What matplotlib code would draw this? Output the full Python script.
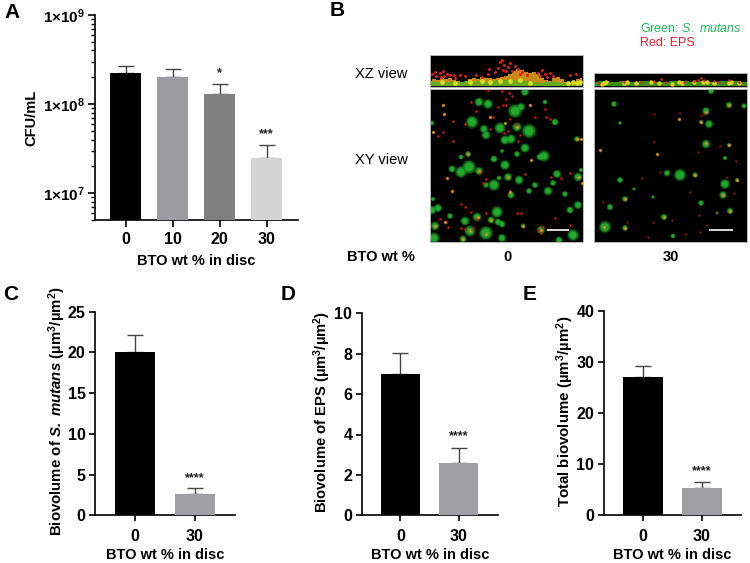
import matplotlib
matplotlib.use('Agg')
from matplotlib import pyplot as plt

plt.rcParams['font.family'] = ['Liberation Sans', 'DejaVu Sans']
plt.rcParams['mathtext.fontset'] = 'custom'
plt.rcParams['mathtext.rm'] = 'Liberation Sans'
plt.rcParams['mathtext.bf'] = 'Liberation Sans:bold'
plt.rcParams['mathtext.it'] = 'Liberation Sans:italic'
plt.rcParams['mathtext.bfit'] = 'Liberation Sans:italic:bold'

# Panel A
a_labels = ['0', '10', '20', '30']
a_values = [2.25e8, 2.03e8, 1.3e8, 2.47e7]
a_errors = [0.45e8, 0.47e8, 0.37e8, 1.0e7]
a_colors = ['#000000', '#9d9da1', '#7f7f7f', '#d4d4d4']
a_stars = ['', '', '*', '***']
a_star_y = [0, 0, 2.2e8, 4.6e7]

# Panels C, D, E
c_values = [20.05, 2.62]
c_errors = [2.15, 0.73]
d_values = [7.0, 2.57]
d_errors = [1.05, 0.76]
e_values = [27.0, 5.25]
e_errors = [2.3, 1.2]

# Panel B spots: x, y, radius (px from panel corner)
left_green = [
    (42, 33, 4.5), (49, 13, 3.2), (58, 15, 3.5), (85, 22, 5), (91, 18, 3), (99, 42, 5.2), (70, 39, 4),
    (75, 51, 3.4), (81, 50, 3.4), (56, 46, 3.2), (54, 40, 3), (87, 38, 3.4), (95, 59, 3.4), (114, 67, 4),
    (110, 68, 2.6), (125, 33, 2.6), (115, 13, 1.8), (95, 3, 3), (64, 70, 2.6), (87, 65, 2.2), (2, 34, 1.8),
    (147, 50, 2.2), (38, 65, 2.2), (72, 62, 1.5), (31, 68, 1.8), (31, 83, 4.2), (39, 78, 5), (22, 80, 2.6),
    (75, 76, 3.6), (49, 82, 3), (78, 88, 3), (64, 96, 4.2), (89, 91, 3.2), (56, 96, 2.2), (69, 89, 1.8),
    (127, 85, 3), (123, 94, 2.2), (105, 96, 2.2), (99, 102, 2.2), (118, 102, 3.2), (135, 105, 2.2),
    (81, 106, 2.6), (148, 88, 3.2), (151, 81, 1.6), (2, 121, 3.2), (8, 119, 3), (3, 110, 1.6), (67, 123, 4.2),
    (20, 127, 2.2), (35, 132, 3.2), (47, 128, 3.2), (61, 131, 2.6), (68, 133, 2.6), (72, 135, 2.6), (5, 137, 3.2),
    (40, 142, 4), (56, 144, 5), (143, 146, 4.2), (129, 151, 2.6), (4, 149, 4), (33, 150, 2.6), (72, 149, 3),
    (140, 121, 2.6), (148, 116, 3), (93, 137, 1.8), (111, 141, 3),
]
left_red = [
    (58, 1), (72, 2), (79, 4), (82, 7), (76, 10), (73, 16), (68, 18), (76, 16), (41, 13), (46, 22), (60, 28),
    (23, 32), (35, 35), (60, 40), (78, 42), (86, 35), (90, 46), (88, 52), (115, 20), (116, 28), (120, 30),
    (100, 16), (13, 16), (14, 25), (13, 43), (8, 47), (3, 43), (23, 52), (63, 28), (74, 44), (80, 30), (105, 28),
    (53, 94), (56, 90), (95, 85), (140, 84), (131, 89), (121, 88), (22, 102), (80, 102), (17, 89), (50, 83),
    (31, 115), (35, 118), (56, 124), (91, 124), (87, 124), (125, 129), (10, 130), (16, 133), (18, 138),
    (31, 139), (35, 140), (43, 139), (108, 141), (111, 144), (113, 138), (140, 136), (47, 130), (41, 123),
]
left_core = [
    (75, 34), (3, 43), (13, 16), (100, 16), (14, 25), (38, 65), (101, 71), (147, 50), (151, 50), (87, 38), (60, 28),
    (49, 82), (78, 88), (80, 103), (17, 89), (22, 102), (149, 88), (152, 94), (48, 128), (61, 131), (93, 137),
    (111, 141), (15, 133), (40, 142), (5, 137), (33, 150), (56, 145),
]
right_green = [
    (117, 2, 2.4), (20, 15, 2.2), (112, 22, 2.8), (135, 16, 2.4), (150, 17, 2), (115, 35, 3), (107, 33, 1.6),
    (112, 55, 3.2), (26, 34, 1.4), (135, 56, 1.6), (131, 69, 1.6), (86, 86, 4.4), (73, 84, 2.4), (101, 86, 2),
    (26, 91, 2.2), (131, 95, 3.6), (143, 91, 1.6), (129, 106, 2.8), (31, 110, 2.2), (40, 100, 1.2), (16, 118, 2.4),
    (59, 108, 1.2), (107, 114, 2.2), (136, 122, 2.4), (70, 128, 2.4), (11, 138, 4.4), (31, 139, 2.2), (79, 147, 1.8),
    (123, 124, 1.2),
]
right_red = [
    (60, 25), (86, 24), (107, 26), (110, 25), (104, 63), (126, 57), (60, 53), (66, 83), (142, 72), (48, 89), (96, 103),
    (9, 113), (59, 133), (105, 126), (91, 145), (54, 148), (106, 143), (133, 88), (33, 133), (78, 131), (123, 124),
    (140, 104), (113, 136),
]
right_core = [
    (112, 23), (135, 16), (107, 33), (112, 54), (85, 30), (6, 61), (63, 65), (135, 56), (101, 86), (143, 91),
    (129, 106), (31, 110), (136, 122), (10, 138), (31, 139), (70, 128),
]

# XZ strips: height of the biofilm along x, then specks
xz_x = [0, 4, 8, 12, 16, 20, 24, 28, 32, 36, 40, 44, 48, 52, 56, 60, 64, 68, 72, 76, 80, 84, 88, 92, 96, 100, 104,
        108, 112, 116, 120, 124, 128, 132, 136, 140, 144, 148, 152]
xz_green = [5, 6, 5, 6, 5, 5, 6, 5, 5, 6, 6, 5, 6, 6, 5, 7, 6, 7, 6, 7, 7, 7, 6, 7, 6, 6, 5, 5, 4, 5, 5, 6, 5, 4, 4, 4,
            5, 6, 6]
xz_orange = [6, 8, 7, 9, 8, 9, 7, 6, 5, 6, 8, 9, 8, 10, 9, 9, 8, 9, 10, 11, 13, 16, 18, 17, 15, 14, 15, 13, 9, 7, 6,
             9, 10, 8, 5, 4, 5, 8, 9]
xz_red = [
    (2, 13), (5, 15), (10, 14), (13, 16), (17, 13), (20, 12), (25, 9), (30, 12), (46, 12), (58, 13), (59, 18),
    (70, 25), (72, 27), (74, 22), (78, 20), (80, 24), (85, 21), (88, 18), (92, 15), (97, 12), (108, 14), (112, 17),
    (115, 13), (120, 14), (123, 11), (140, 12), (146, 13), (65, 15), (76, 16), (82, 16), (14, 11), (35, 11), (52, 10),
    (6, 11), (11, 10), (24, 12), (68, 19), (73, 17), (90, 13), (110, 11), (117, 10),
]
xz_yellow = [(138, 4), (143, 5), (147, 4), (150, 5), (40, 5), (60, 5), (80, 6), (25, 4), (100, 4), (12, 5), (52, 6),
             (70, 6), (90, 7)]
xz2_x = [0, 10, 20, 30, 40, 50, 60, 70, 80, 90, 100, 110, 120, 130, 140, 153]
xz2_green = [5, 6, 5, 6, 5, 6, 5, 5, 6, 6, 5, 6, 5, 6, 6, 5]
xz2_yellow = [(10, 4), (12, 5), (30, 4), (57, 5), (85, 5), (88, 4), (109, 5), (113, 5), (135, 4), (137, 5),
              (100, 5), (65, 4), (42, 4), (78, 3), (8, 3), (33, 5), (120, 4), (145, 4)]
xz2_red = [(67, 8), (47, 5), (60, 6), (107, 9), (110, 7), (120, 6), (135, 7), (145, 5), (72, 5), (100, 6),
           (30, 5), (5, 4), (90, 5), (125, 5), (104, 7)]

fig = plt.figure(figsize=(7.5, 5.63), dpi=100)


def px_axes(left, top, right, bottom):
    return fig.add_axes([left / 750, 1 - bottom / 563, (right - left) / 750, (bottom - top) / 563])


def size(r):
    # radius in pixels to scatter size
    return (2 * r * 0.72) ** 2


def style_axis(ax):
    ax.spines['top'].set_visible(False)
    ax.spines['right'].set_visible(False)
    ax.spines['left'].set_linewidth(1.2)
    ax.spines['bottom'].set_linewidth(1.2)


def bar_panel(box, values, errors, ymax, ticks, ylabel, label_x, label_size, star_y, xlim):
    ax = px_axes(*box)
    # bars above the error bars so the lower cap stays hidden
    ax.bar([0, 1], values, width=0.67, color=['#000000', '#a0a0a4'], zorder=3)
    ax.errorbar([0, 1], values, yerr=[[0, 0], errors], fmt='none', ecolor='#444444', elinewidth=1, capsize=5.6,
                capthick=1, zorder=2)
    ax.set_xlim(*xlim)
    ax.set_ylim(0, ymax)
    ax.set_xticks([0, 1])
    ax.set_xticklabels(['0', '30'], fontweight='bold', fontsize=11.5)
    ax.set_yticks(ticks)
    ax.set_yticklabels([str(t) for t in ticks], fontweight='bold', fontsize=11.5)
    ax.tick_params(width=1.2, length=4, pad=3)
    ax.tick_params(axis='x', pad=6)
    style_axis(ax)
    ax.set_xlabel('BTO wt % in disc', fontweight='bold', fontsize=10.5, labelpad=3)
    ax.text(1, star_y, '****', ha='center', va='center', fontsize=9, fontweight='bold', color='#222222')
    fig.text(label_x / 750, 1 - (box[1] + box[3]) / 2 / 563 + 0.004, ylabel, rotation=90, ha='center', va='center',
             fontweight='bold', fontsize=label_size)


def spots(ax, green, red, core, red_alpha):
    gx = [s[0] for s in green]
    gy = [s[1] for s in green]
    # soft edge built up from a few layers
    ax.scatter(gx, gy, s=[size(s[2] * 1.5) for s in green], color='#0d5c12', alpha=0.45, linewidths=0)
    ax.scatter(gx, gy, s=[size(s[2] * 1.2) for s in green], color='#178a22', alpha=0.8, linewidths=0)
    ax.scatter(gx, gy, s=[size(s[2] * 0.85) for s in green], color='#22a82c', linewidths=0)
    rx = [p[0] for p in red]
    ry = [p[1] for p in red]
    ax.scatter(rx, ry, s=size(1.6), color='#7a1010', alpha=0.6 * red_alpha, linewidths=0)
    ax.scatter(rx, ry, s=size(1.0), color='#e21a1a', alpha=red_alpha, linewidths=0)
    ax.scatter([p[0] for p in core], [p[1] for p in core], s=size(1.8), color='#b8701c', alpha=0.7, linewidths=0)
    ax.scatter([p[0] for p in core], [p[1] for p in core], s=size(1.1), color='#dca024', linewidths=0)


def image_axes(left, top, right, bottom, inverted):
    ax = px_axes(left, top, right, bottom)
    ax.set_facecolor('black')
    ax.set_xticks([])
    ax.set_yticks([])
    ax.set_xlim(0, right - left)
    if inverted:
        ax.set_ylim(bottom - top, 0)
    else:
        ax.set_ylim(0, bottom - top)
    for s in ax.spines.values():
        s.set_color('#b8b8b8')
        s.set_linewidth(0.7)
    return ax


# A
ax_a = px_axes(94.5, 15, 298, 220)
a_x = range(len(a_values))
ax_a.bar(a_x, a_values, width=0.66, color=a_colors, bottom=1, zorder=3)
ax_a.errorbar(a_x, a_values, yerr=[[0] * 4, a_errors], fmt='none', ecolor='#444444', elinewidth=1, capsize=5.8,
              capthick=1, zorder=2)
ax_a.set_yscale('log')
ax_a.set_xlim(-0.66, 3.67)
ax_a.set_ylim(5e6, 1e9)
ax_a.set_xticks(list(a_x))
ax_a.set_xticklabels(a_labels, fontweight='bold', fontsize=11.5)
ax_a.set_yticks([1e7, 1e8, 1e9])
ax_a.set_yticklabels([r'$\mathbf{1{\times}10^{7}}$', r'$\mathbf{1{\times}10^{8}}$', r'$\mathbf{1{\times}10^{9}}$'],
                     fontsize=11)
ax_a.set_yticks([m * 10 ** e for e in (6, 7, 8) for m in range(2, 10) if m * 10 ** e >= 5e6], minor=True)
ax_a.set_yticklabels([], minor=True)
ax_a.tick_params(axis='y', which='major', width=1.2, length=5, pad=2)
ax_a.tick_params(axis='y', which='minor', width=1, length=3)
ax_a.tick_params(axis='x', width=1.2, length=5, pad=4)
style_axis(ax_a)
ax_a.set_xlabel('BTO wt % in disc', fontweight='bold', fontsize=10.5, labelpad=5)
ax_a.set_ylabel('CFU/mL', fontweight='bold', fontsize=10.5, labelpad=3)
for i, star in enumerate(a_stars):
    if star:
        ax_a.text(i, a_star_y[i], star, ha='center', va='center', fontsize=9, fontweight='bold', color='#222222')

# B
ax = image_axes(430, 55, 583, 87, False)
ax.fill_between(xz_x, 1, xz_orange, step='mid', color='#c98a1c', linewidth=0)
ax.fill_between(xz_x, 1, xz_green, step='mid', color='#6aa81c', linewidth=0)
ax.scatter([p[0] for p in xz_yellow], [p[1] for p in xz_yellow], s=size(2.4), color='#dcdc20', linewidths=0)
ax.scatter([p[0] for p in xz_red], [p[1] for p in xz_red], s=size(1.5), color='#e21a1a', linewidths=0)

ax = image_axes(594, 73, 747, 87, False)
ax.fill_between(xz2_x, 1, xz2_green, step='mid', color='#3d8f1a', linewidth=0)
ax.scatter([p[0] for p in xz2_yellow], [p[1] for p in xz2_yellow], s=size(2.2), color='#e0d020', linewidths=0)
ax.scatter([p[0] for p in xz2_red], [p[1] for p in xz2_red], s=size(1.3), color='#dd2020', linewidths=0)

ax = image_axes(430, 89, 583, 242, True)
spots(ax, left_green, left_red, left_core, 1)
ax.plot([117, 139], [141, 141], color='white', lw=1.2, solid_capstyle='butt')

ax = image_axes(594, 89, 747, 242, True)
spots(ax, right_green, right_red, right_core, 0.55)
ax.plot([115, 139], [141, 141], color='white', lw=1.2, solid_capstyle='butt')

# C, D, E
bar_panel((95.3, 311.7, 234.7, 515.3), c_values, c_errors, 25, [0, 5, 10, 15, 20, 25],
          r'Biovolume of $\mathbfit{S.\ mutans}$ (µm$\mathbf{^3}$/µm$\mathbf{^2}$)', 57, 10.8, 4.6, (-0.672, 1.67))
bar_panel((362, 313.3, 498.4, 515.3), d_values, d_errors, 10, [0, 2, 4, 6, 8, 10],
          r'Biovolume of EPS (µm$\mathbf{^3}$/µm$\mathbf{^2}$)', 322, 10.6, 3.9, (-0.66, 1.68))
bar_panel((604, 311, 741.3, 515.3), e_values, e_errors, 40, [0, 10, 20, 30, 40],
          r'Total biovolume (µm$\mathbf{^3}$/µm$\mathbf{^2}$)', 565, 10.8, 8.7, (-0.66, 1.67))


def label(x, y, s, **kw):
    fig.text(x / 750, 1 - y / 563, s, va='center', **kw)


label(4, 12, 'A', fontweight='bold', fontsize=15)
label(330, 11, 'B', fontweight='bold', fontsize=15)
label(3, 295, 'C', fontweight='bold', fontsize=15)
label(281, 295, 'D', fontweight='bold', fontsize=15)
label(523, 295, 'E', fontweight='bold', fontsize=15)
label(381, 74, 'XZ view', ha='center', fontsize=10.5)
label(381, 160, 'XY view', ha='center', fontsize=10.5)
label(381, 257, 'BTO wt %', ha='center', fontweight='bold', fontsize=10.5)
label(508, 257, '0', ha='center', fontweight='bold', fontsize=10.5)
label(671, 257, '30', ha='center', fontweight='bold', fontsize=10.5)
label(640, 28, r'Green: $\mathit{S.\ mutans}$', color='#1fb95a', fontsize=9)
label(640, 43, 'Red: EPS', color='#ec1c2c', fontsize=9)

fig.savefig('out.png', dpi=100)
